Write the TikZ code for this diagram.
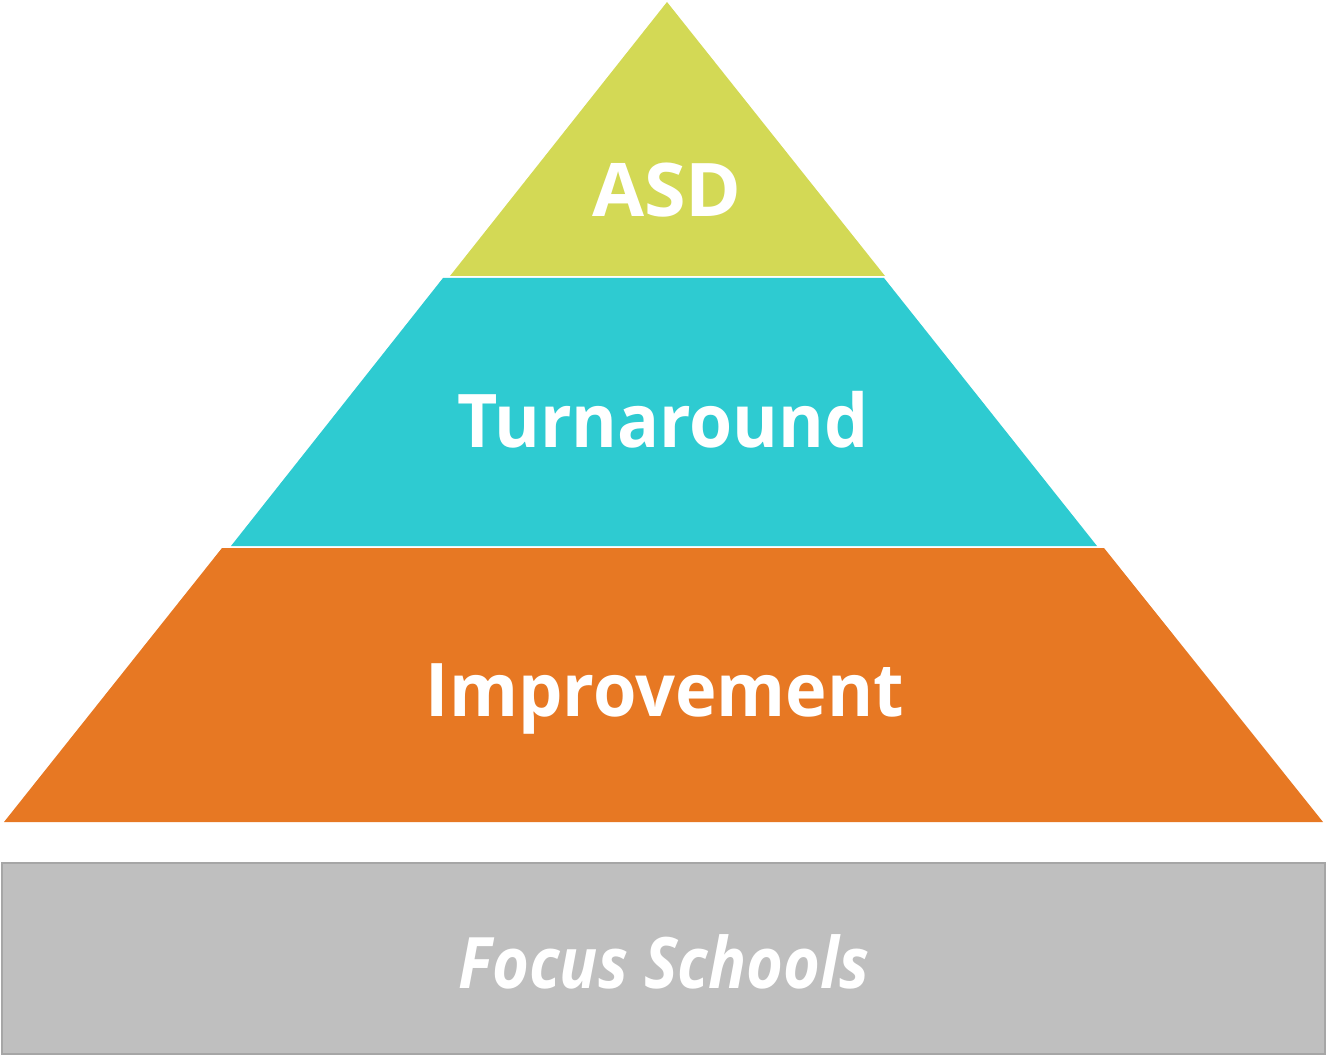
\documentclass[tikz,border=0pt]{standalone}
\usepackage{fontspec}
\setmainfont{Open Sans}
\newcommand{\narrow}[2]{\scalebox{#1}[1]{#2}}
\begin{document}
\begin{tikzpicture}[x=1pt,y=-1pt,
  label/.style={anchor=base,text=white,inner sep=0pt,font=\bfseries\fontsize{74}{80}\selectfont}]
\definecolor{tierA}{RGB}{211,217,85}
\definecolor{tierB}{RGB}{46,203,209}
\definecolor{tierC}{RGB}{231,120,35}
\definecolor{baseFill}{RGB}{191,191,191}
\definecolor{baseLine}{RGB}{166,166,166}
\useasboundingbox (0,0) rectangle (1327,1056);
% pyramid tiers
\fill[tierA] (667,2) -- (885,276) -- (450,276) -- cycle;
\fill[tierB] (443,278) -- (884,278) -- (1097,546) -- (231,546) -- cycle;
\fill[tierC] (222,548) -- (1104,548) -- (1323,822) -- (4,822) -- cycle;
% base band
\draw[baseLine,fill=baseFill,line width=2pt] (2,863) rectangle (1325,1054);
% labels
\node[label] (asd) at (667,217) {\narrow{1.02}{ASD}};
\node[label] (turn) at (663,447) {\narrow{0.942}{Turnaround}};
\node[label] (impr) at (665,716) {\narrow{0.95}{Improvement}};
\node[label,font=\bfseries\itshape\fontsize{71}{80}\selectfont] (focus) at (664,988) {\narrow{0.89}{Focus Schools}};
\end{tikzpicture}
\end{document}
